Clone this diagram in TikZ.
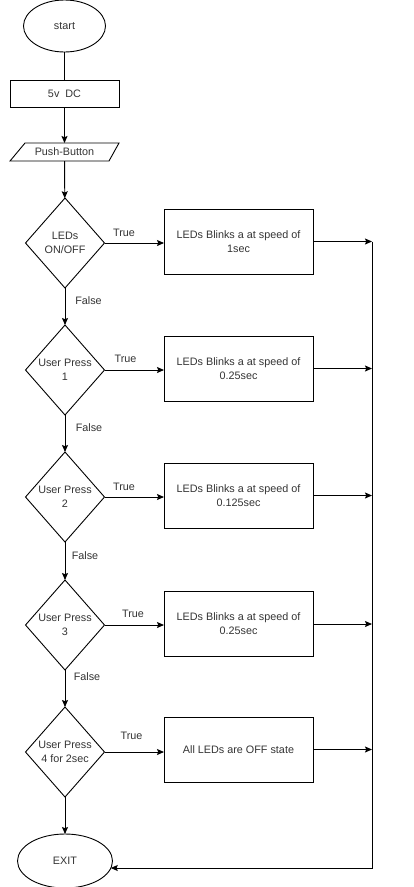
\documentclass[tikz,border=0pt]{standalone}
\usepackage{fontspec}
\setmainfont{Liberation Sans}
\usetikzlibrary{shapes.geometric,arrows.meta}
\begin{document}
\begin{tikzpicture}[x=1pt,y=-1pt,
  every node/.style={font=\fontsize{10.8}{14}\selectfont, text=black!80},
  conn/.style={draw=black, line width=0.9pt},
  arr/.style={conn, -{Stealth[length=7pt,width=6pt,inset=1.2pt]}},
  base/.style={draw=black, line width=0.9pt, inner sep=0pt, outer sep=0pt},
  term/.style={base, ellipse},
  procbox/.style={base, rectangle, minimum width=149, minimum height=65, align=center},
  decision/.style={base, diamond, minimum width=79, minimum height=90},
  dlabel/.style={align=center}
]
\useasboundingbox (0,0) rectangle (413,887);

% terminals and top blocks
\node[term, minimum width=82, minimum height=52] (start) at (64.5,26) {start};
\node[base, minimum width=109, minimum height=27] (dc) at (64.5,93.5) {5v\ \ DC};
\node[inner sep=0pt, outer sep=0pt, minimum width=94, minimum height=18] (push) at (64.5,152) {Push-Button};
\draw[conn] (10,161) -- (25,143) -- (119,143) -- (109,161) -- cycle;

% decisions
\node[decision, label={[dlabel]center:LEDs\\ON/OFF}] (d1) at (65,243) {};
\node[decision, label={[dlabel]center:User Press\\1}] (d2) at (65,370) {};
\node[decision, label={[dlabel]center:User Press\\2}] (d3) at (65,497) {};
\node[decision, label={[dlabel]center:User Press\\3}] (d4) at (65,625) {};
\node[decision, label={[dlabel]center:User Press\\4 for 2sec}] (d5) at (65,752) {};

% process boxes
\node[procbox] (r1) at (238.5,241.5) {LEDs Blinks a at speed of\\1sec};
\node[procbox] (r2) at (238.5,368.5) {LEDs Blinks a at speed of\\0.25sec};
\node[procbox] (r3) at (238.5,495.5) {LEDs Blinks a at speed of\\0.125sec};
\node[procbox] (r4) at (238.5,624) {LEDs Blinks a at speed of\\0.25sec};
\node[procbox] (r5) at (238.5,749.5) {All LEDs are OFF state};

\node[term, minimum width=95, minimum height=54] (exit) at (65,861) {EXIT};

% bus
\coordinate (bustop) at (372,241.5);
\coordinate (busbot) at (372,868);

% vertical flow
\draw[conn] (start) -- (dc);
\draw[arr] (dc) -- (push);
\draw[arr] (push) -- (d1);
\draw[arr] (d1) -- (d2);
\draw[arr] (d2) -- (d3);
\draw[arr] (d3) -- (d4);
\draw[arr] (d4) -- (d5);
\draw[arr] (d5) -- (exit);

% true branches
\draw[arr] (d1.east) -- (d1.east -| r1.west);
\draw[arr] (d2.east) -- (d2.east -| r2.west);
\draw[arr] (d3.east) -- (d3.east -| r3.west);
\draw[arr] (d4.east) -- (d4.east -| r4.west);
\draw[arr] (d5.east) -- (d5.east -| r5.west);

% outputs to bus
\draw[arr] (r1.east) -- (r1.east -| bustop);
\draw[arr] (r2.east) -- (r2.east -| bustop);
\draw[arr] (r3.east) -- (r3.east -| bustop);
\draw[arr] (r4.east) -- (r4.east -| bustop);
\draw[arr] (r5.east) -- (r5.east -| bustop);

\draw[arr] (bustop) -- (busbot) -- (busbot -| exit.-9);

% labels
\node (t1) at (124,233) {True};
\node (t2) at (125.5,359) {True};
\node (t3) at (124,487) {True};
\node (t4) at (133,614) {True};
\node (t5) at (131.5,736) {True};
\node (f1) at (88.5,301) {False};
\node (f2) at (89,428) {False};
\node (f3) at (85,556) {False};
\node (f4) at (87,677) {False};
\end{tikzpicture}
\end{document}
